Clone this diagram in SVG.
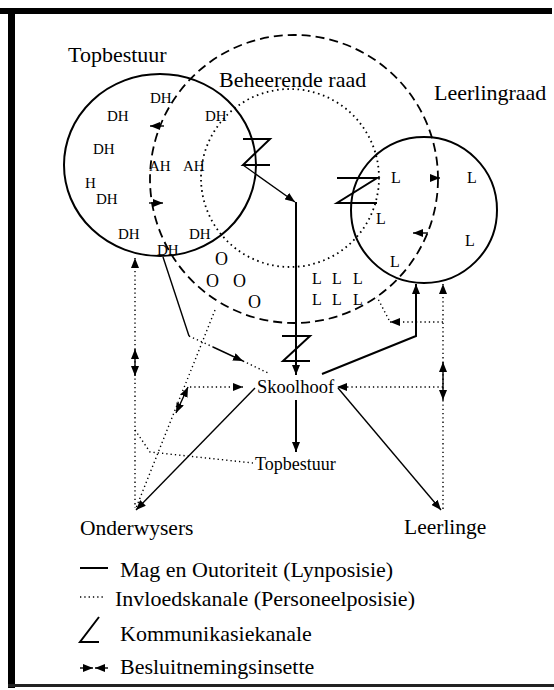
<svg xmlns="http://www.w3.org/2000/svg" width="554" height="690" viewBox="0 0 554 690">
<defs>
<marker id="ah" markerUnits="userSpaceOnUse" markerWidth="10" markerHeight="8" refX="10" refY="4" orient="auto-start-reverse" viewBox="0 0 10 8">
<path d="M0,0 L10,4 L0,8 z" fill="#000"/>
</marker>
<style>
.t{font-family:"Liberation Serif","Times New Roman",serif;fill:#000}
.h{font-size:22px}
.lb{font-size:21.5px}
.lg{font-size:22px}
.sm{font-size:15px}
.ll{font-size:16px}
.oo{font-size:18px}
.mid{font-size:18.5px}
.solid{fill:none;stroke:#000;stroke-width:2}
.thin{fill:none;stroke:#000;stroke-width:1.4}
.dot{fill:none;stroke:#000;stroke-width:1.4;stroke-dasharray:1.3 3}
.dash{fill:none;stroke:#000;stroke-width:1.8;stroke-dasharray:9 5}
.dotc{fill:none;stroke:#000;stroke-width:1.8;stroke-dasharray:1.6 3.6}
.arr{marker-end:url(#ah)}
.arr2{marker-start:url(#ah);marker-end:url(#ah)}
.arrs{marker-start:url(#ah)}
</style>
</defs>
<g id="frame">
<rect x="0" y="8" width="552" height="6" fill="#000"/>
<rect x="8" y="8" width="7" height="680" fill="#000"/>
<rect x="8" y="684" width="546" height="3" fill="#222"/>
</g>
<g id="beheerende-raad">
<circle cx="294" cy="179" r="144" class="dash"/>
<circle cx="290" cy="178" r="89" class="dotc"/>
<text class="t h" x="219" y="87">Beheerende raad</text>
</g>
<g id="topbestuur">
<ellipse cx="160" cy="165" rx="96" ry="91" class="solid"/>
<text class="t h" x="68" y="62">Topbestuur</text>
<text class="t sm" x="150" y="103">DH</text>
<text class="t sm" x="107" y="121">DH</text>
<text class="t sm" x="205" y="121">DH</text>
<text class="t sm" x="93" y="154">DH</text>
<text class="t sm" x="149" y="171">AH</text>
<text class="t sm" x="183" y="171">AH</text>
<text class="t sm" x="85" y="188">H</text>
<text class="t sm" x="96" y="204">DH</text>
<text class="t sm" x="118" y="239">DH</text>
<text class="t sm" x="189" y="239">DH</text>
<text class="t sm" x="157" y="255">DH</text>
</g>
<g id="leerlingraad">
<circle cx="424" cy="210" r="73" class="solid"/>
<text class="t h" x="434" y="100">Leerlingraad</text>
<text class="t ll" x="391" y="183">L</text>
<text class="t ll" x="467" y="183">L</text>
<text class="t ll" x="376" y="224">L</text>
<text class="t ll" x="465" y="246">L</text>
<text class="t ll" x="390" y="267">L</text>
</g>
<g id="leerlinge-in-raad">
<text class="t ll" x="312" y="284">L</text>
<text class="t ll" x="332" y="284">L</text>
<text class="t ll" x="353" y="284">L</text>
<text class="t ll" x="312" y="305">L</text>
<text class="t ll" x="332" y="305">L</text>
<text class="t ll" x="353" y="305">L</text>
</g>
<g id="ouers">
<text class="t oo" x="215" y="265">O</text>
<text class="t oo" x="206" y="287">O</text>
<text class="t oo" x="233" y="287">O</text>
<text class="t oo" x="248" y="308">O</text>
</g>
<g id="skoolhoof"><text class="t mid" x="257" y="393">Skoolhoof</text></g>
<g id="topbestuur-klein"><text class="t" font-size="18" x="255" y="470">Topbestuur</text></g>
<g id="onderwysers"><text class="t lb" x="80" y="535">Onderwysers</text></g>
<g id="leerlinge"><text class="t lb" x="404" y="534">Leerlinge</text></g>
<g id="connectors">
<polyline class="solid" points="243,139 270,139 243,165 270,165"/>
<line class="thin arr" x1="243" y1="165" x2="295" y2="202"/>
<line class="solid arr" x1="296" y1="202" x2="296" y2="375"/>
<polyline class="solid" points="282,336 310,336 283,361 310,361"/>
<polyline class="solid" points="337,178 377,178 337,203 377,203"/>
<line class="solid arr" x1="296" y1="400" x2="296" y2="452"/>
<polyline class="solid arr" points="322,374 416,336 416,284"/>
<line class="thin arr" x1="255" y1="388" x2="136" y2="510"/>
<line class="thin arr" x1="338" y1="388" x2="441" y2="510"/>
<line class="thin" x1="163" y1="257" x2="189" y2="336"/>
<line class="dot" x1="189" y1="336" x2="213" y2="347"/>
<line class="thin arr" x1="213" y1="347" x2="243" y2="361"/>
<line class="dot" x1="243" y1="361" x2="268" y2="373"/>
<line class="dot" x1="215" y1="310" x2="136" y2="508"/>
<line class="thin arr2" x1="188" y1="387" x2="176" y2="413"/>
<line class="dot arr" x1="190" y1="387" x2="243" y2="387"/>
<line class="dot arrs" x1="135" y1="258" x2="135" y2="508"/>
<line class="thin arr2" x1="135" y1="349" x2="135" y2="376"/>
<polyline class="dot" points="135,430 150,452 253,463"/>
<line class="dot arrs" x1="443" y1="284" x2="443" y2="510"/>
<line class="thin arr2" x1="443" y1="362" x2="443" y2="400"/>
<line class="dot arr" x1="443" y1="322" x2="390" y2="322"/>
<line class="dot" x1="389" y1="320" x2="377" y2="297"/>
<line class="dot arr" x1="443" y1="387" x2="337" y2="387"/>
<line class="thin arr" x1="164" y1="126" x2="150" y2="126"/>
<line class="thin arr" x1="149" y1="203" x2="163" y2="203"/>
<line class="thin arr" x1="430" y1="178" x2="440" y2="178"/>
<line class="thin arr" x1="428" y1="233" x2="413" y2="233"/>
</g>
<g id="legend">
<line class="solid" x1="80" y1="568" x2="108" y2="568"/>
<text class="t lg" x="120" y="577">Mag en Outoriteit (Lynposisie)</text>
<line class="dot" x1="80" y1="597" x2="104" y2="597"/>
<text class="t lg" x="115" y="606">Invloedskanale (Personeelposisie)</text>
<polyline class="solid" points="99,617 80,642 99,642"/>
<text class="t lg" x="120" y="641">Kommunikasiekanale</text>
<line class="thin arr" x1="80" y1="668" x2="93" y2="668"/>
<line class="thin arr" x1="108" y1="668" x2="95" y2="668"/>
<text class="t lg" x="120" y="674">Besluitnemingsinsette</text>
</g>
</svg>
